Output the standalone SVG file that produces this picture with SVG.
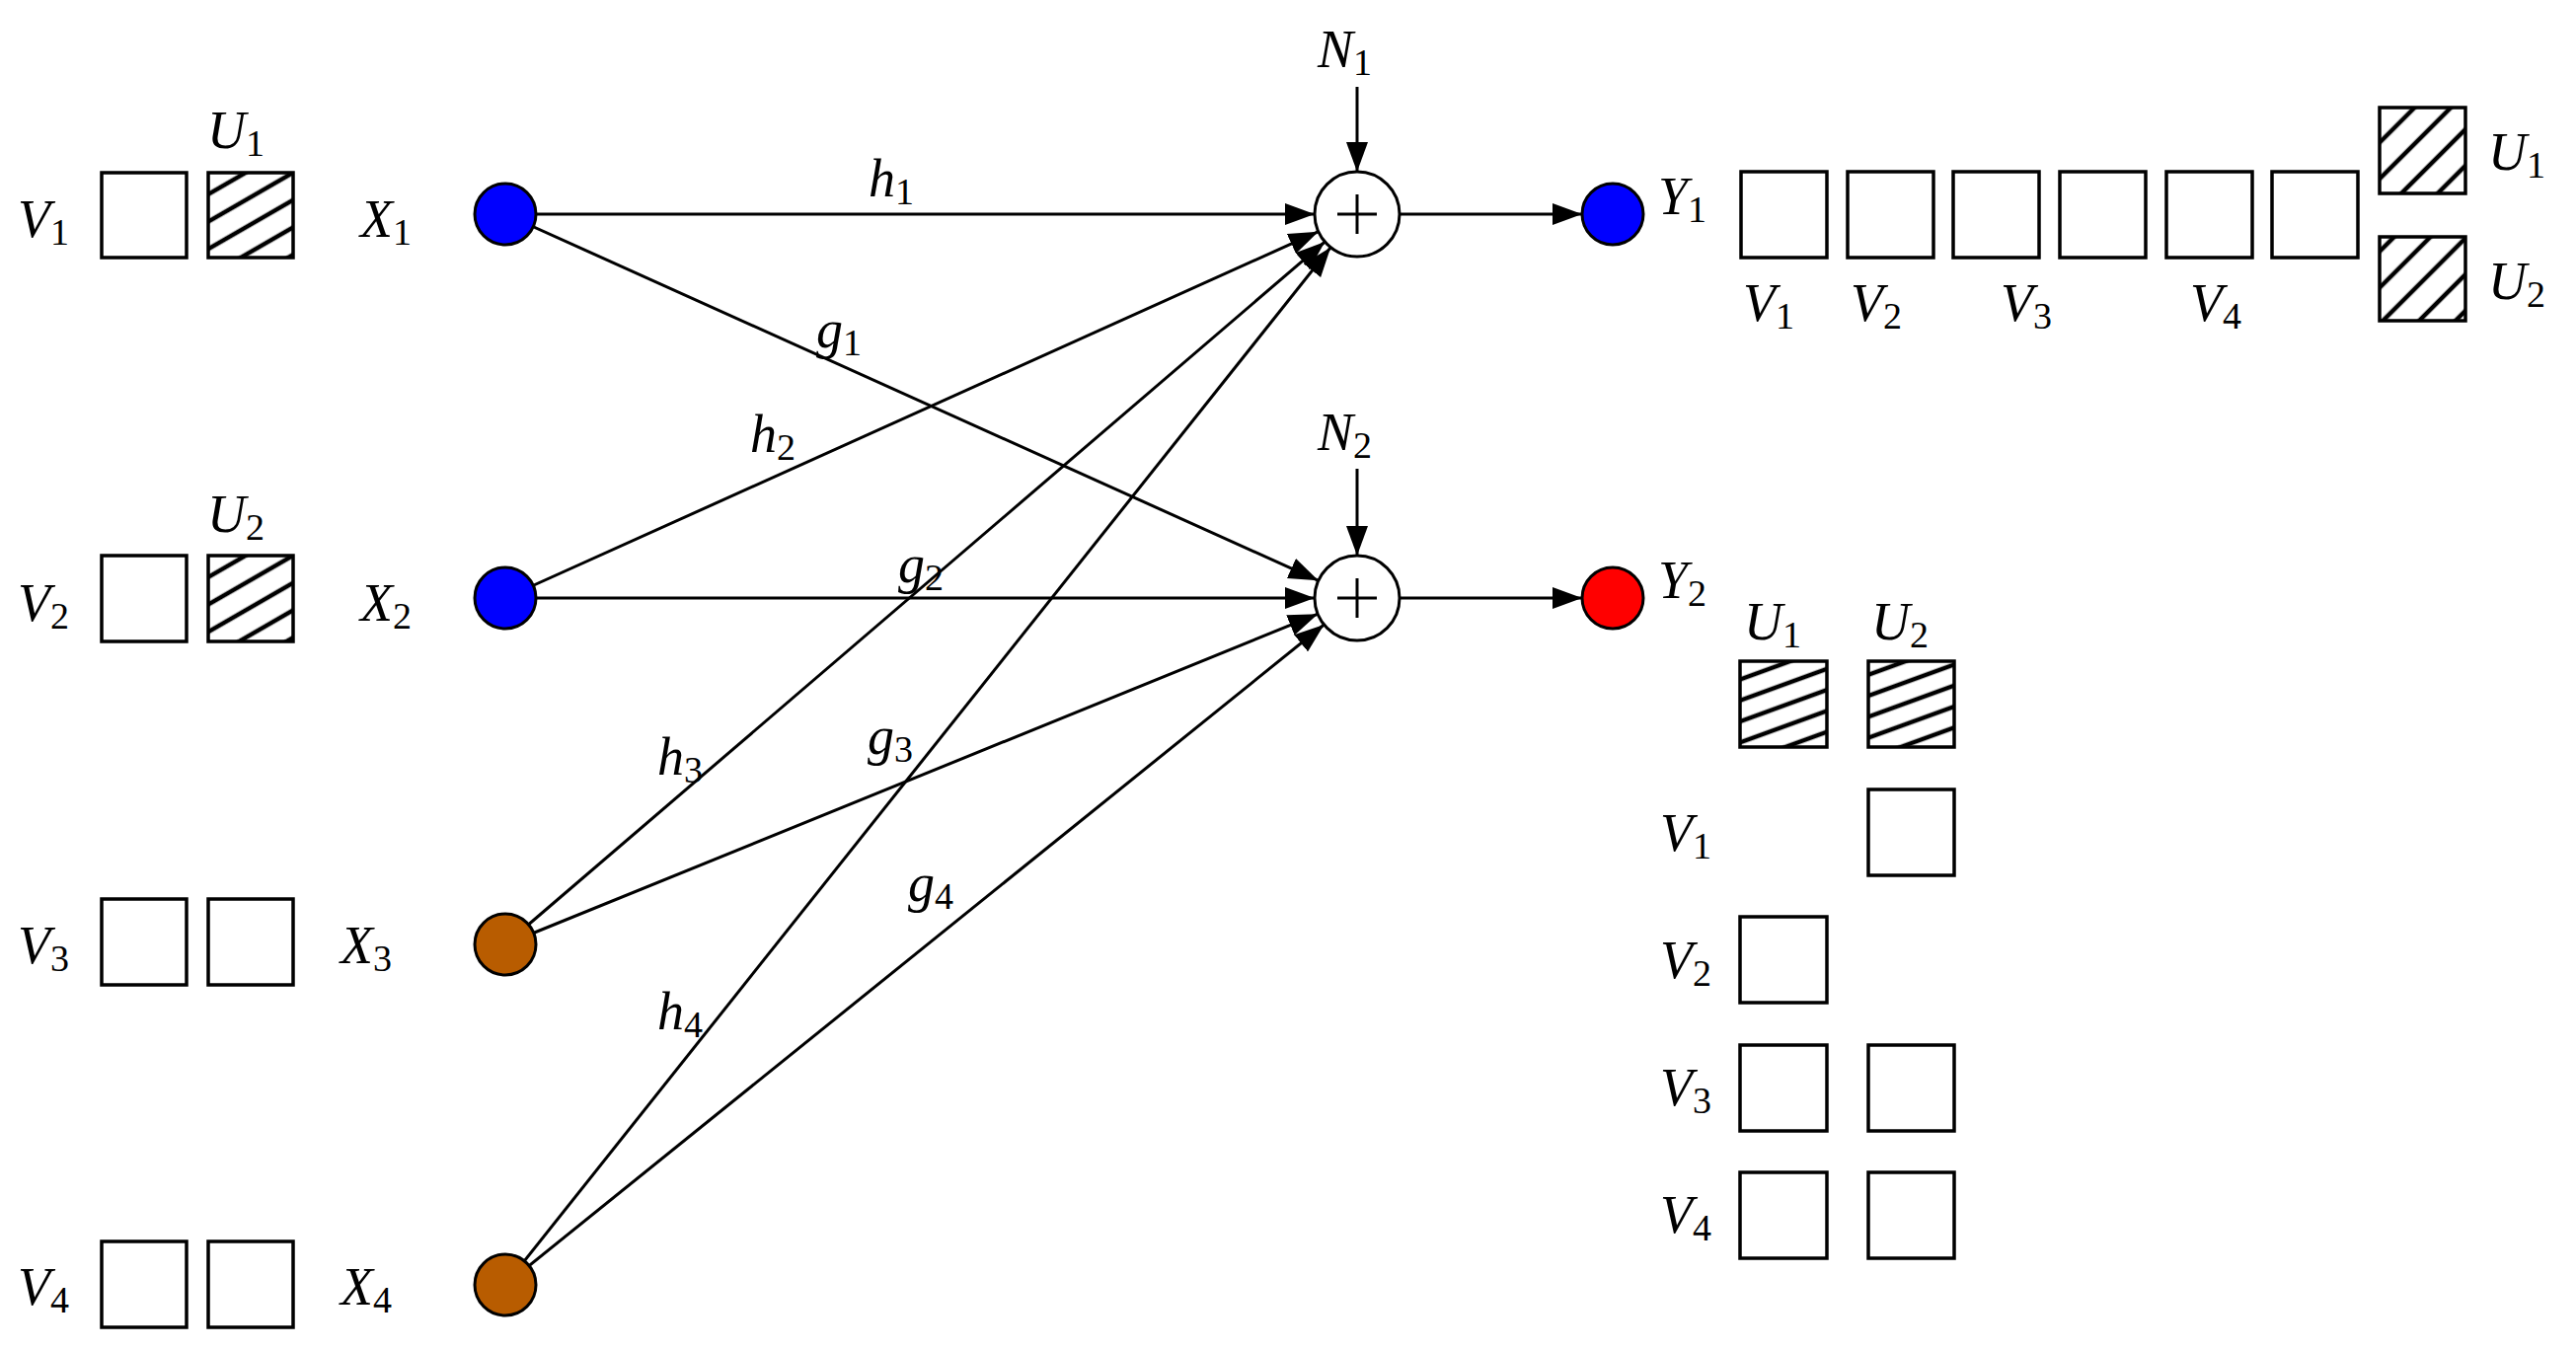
<svg xmlns="http://www.w3.org/2000/svg" width="2610" height="1368" viewBox="0 0 2610 1368">
<style>
text{font-family:"Liberation Serif","Times New Roman",serif;font-style:italic;font-size:54px;fill:#000}
tspan.s{font-style:normal;font-size:38px}
.b{fill:#fff;stroke:#000;stroke-width:3.5}
.h1{fill:url(#hatA);stroke:#000;stroke-width:3.5}
.h2{fill:url(#hatB);stroke:#000;stroke-width:3.5}
.h3{fill:url(#hatC);stroke:#000;stroke-width:3.5}
.e{stroke:#000;stroke-width:3;fill:none;marker-end:url(#ar)}
.n{stroke:#000;stroke-width:3}
.sum{fill:#fff;stroke:#000;stroke-width:3}
</style>
<defs>
<marker id="ar" markerUnits="userSpaceOnUse" markerWidth="32" markerHeight="22" refX="30" refY="11" orient="auto"><path d="M0,0 L30,11 L0,22 Z" fill="#000"/></marker>
<pattern id="hatA" patternUnits="userSpaceOnUse" width="24" height="24" patternTransform="rotate(-30)"><rect width="24" height="24" fill="#fff"/><line x1="0" y1="12" x2="24" y2="12" stroke="#000" stroke-width="4.5"/></pattern>
<pattern id="hatB" patternUnits="userSpaceOnUse" width="26" height="26" patternTransform="rotate(-45)"><rect width="26" height="26" fill="#fff"/><line x1="0" y1="13" x2="26" y2="13" stroke="#000" stroke-width="4.5"/></pattern>
<pattern id="hatC" patternUnits="userSpaceOnUse" width="20" height="20" patternTransform="rotate(-20)"><rect width="20" height="20" fill="#fff"/><line x1="0" y1="10" x2="20" y2="10" stroke="#000" stroke-width="4.5"/></pattern>
</defs>
<rect width="2610" height="1368" fill="#fff"/>
<g id="connectors">
<line class="e" x1="512" y1="217" x2="1332" y2="217"/>
<line class="e" x1="512" y1="217" x2="1335.8" y2="588.3"/>
<line class="e" x1="512" y1="606" x2="1335.8" y2="234.7"/>
<line class="e" x1="512" y1="606" x2="1332" y2="606"/>
<line class="e" x1="512" y1="957" x2="1342.4" y2="245"/>
<line class="e" x1="512" y1="957" x2="1335.2" y2="622.2"/>
<line class="e" x1="512" y1="1302" x2="1348.2" y2="250.7"/>
<line class="e" x1="512" y1="1302" x2="1341.5" y2="633"/>
<line class="e" x1="1418" y1="217" x2="1603" y2="217"/>
<line class="e" x1="1418" y1="606" x2="1603" y2="606"/>
<line class="e" x1="1375" y1="88" x2="1375" y2="174"/>
<line class="e" x1="1375" y1="475" x2="1375" y2="563"/>
<text x="903" y="199" text-anchor="middle">h<tspan class="s" dy="8">1</tspan></text>
<text x="850" y="352" text-anchor="middle">g<tspan class="s" dy="8">1</tspan></text>
<text x="783" y="458" text-anchor="middle">h<tspan class="s" dy="8">2</tspan></text>
<text x="933" y="590" text-anchor="middle">g<tspan class="s" dy="8">2</tspan></text>
<text x="689" y="785" text-anchor="middle">h<tspan class="s" dy="8">3</tspan></text>
<text x="902" y="764" text-anchor="middle">g<tspan class="s" dy="8">3</tspan></text>
<text x="943" y="913" text-anchor="middle">g<tspan class="s" dy="8">4</tspan></text>
<text x="689" y="1043" text-anchor="middle">h<tspan class="s" dy="8">4</tspan></text>
</g>
<g id="row1"><text x="18" y="240">V<tspan class="s" dy="8">1</tspan></text><rect class="b" x="103" y="175" width="86" height="86"/><rect class="h1" x="211" y="175" width="86" height="86"/><text x="210" y="150">U<tspan class="s" dy="8">1</tspan></text><text x="365" y="240">X<tspan class="s" dy="8">1</tspan></text></g>
<g id="row2"><text x="18" y="629">V<tspan class="s" dy="8">2</tspan></text><rect class="b" x="103" y="563" width="86" height="87"/><rect class="h1" x="211" y="563" width="86" height="87"/><text x="210" y="539">U<tspan class="s" dy="8">2</tspan></text><text x="365" y="629">X<tspan class="s" dy="8">2</tspan></text></g>
<g id="row3"><text x="18" y="976">V<tspan class="s" dy="8">3</tspan></text><rect class="b" x="103" y="911" width="86" height="87"/><rect class="b" x="211" y="911" width="86" height="87"/><text x="345" y="976">X<tspan class="s" dy="8">3</tspan></text></g>
<g id="row4"><text x="18" y="1322">V<tspan class="s" dy="8">4</tspan></text><rect class="b" x="103" y="1258" width="86" height="87"/><rect class="b" x="211" y="1258" width="86" height="87"/><text x="345" y="1322">X<tspan class="s" dy="8">4</tspan></text></g>
<g id="X1"><circle cx="512" cy="217" r="31" fill="#0000ff" stroke="#000" stroke-width="3"/></g>
<g id="X2"><circle cx="512" cy="606" r="31" fill="#0000ff" stroke="#000" stroke-width="3"/></g>
<g id="X3"><circle cx="512" cy="957" r="31" fill="#b85c00" stroke="#000" stroke-width="3"/></g>
<g id="X4"><circle cx="512" cy="1302" r="31" fill="#b85c00" stroke="#000" stroke-width="3"/></g>
<g id="S1"><circle class="sum" cx="1375" cy="217" r="43"/><line class="n" x1="1355" y1="217" x2="1395" y2="217"/><line class="n" x1="1375" y1="197" x2="1375" y2="237"/><text x="1335" y="68">N<tspan class="s" dy="8">1</tspan></text></g>
<g id="S2"><circle class="sum" cx="1375" cy="606" r="43"/><line class="n" x1="1355" y1="606" x2="1395" y2="606"/><line class="n" x1="1375" y1="586" x2="1375" y2="626"/><text x="1335" y="456">N<tspan class="s" dy="8">2</tspan></text></g>
<g id="Y1"><circle cx="1634" cy="217" r="31" fill="#0000ff" stroke="#000" stroke-width="3"/><text x="1680" y="217">Y<tspan class="s" dy="8">1</tspan></text></g>
<g id="Y2"><circle cx="1634" cy="606" r="31" fill="#ff0000" stroke="#000" stroke-width="3"/><text x="1680" y="606">Y<tspan class="s" dy="8">2</tspan></text></g>
<g id="Y1buf">
<rect class="b" x="1764" y="174" width="87" height="87"/><rect class="b" x="1872" y="174" width="87" height="87"/><rect class="b" x="1979" y="174" width="87" height="87"/><rect class="b" x="2087" y="174" width="87" height="87"/><rect class="b" x="2195" y="174" width="87" height="87"/><rect class="b" x="2302" y="174" width="87" height="87"/>
<text x="1766" y="325">V<tspan class="s" dy="8">1</tspan></text><text x="1875" y="325">V<tspan class="s" dy="8">2</tspan></text><text x="2027" y="325">V<tspan class="s" dy="8">3</tspan></text><text x="2219" y="325">V<tspan class="s" dy="8">4</tspan></text>
<rect class="h2" x="2411" y="109" width="87" height="87"/><rect class="h2" x="2411" y="240" width="87" height="85"/>
<text x="2521" y="172">U<tspan class="s" dy="8">1</tspan></text><text x="2521" y="303">U<tspan class="s" dy="8">2</tspan></text>
</g>
<g id="Y2buf">
<text x="1767" y="648">U<tspan class="s" dy="8">1</tspan></text><text x="1896" y="648">U<tspan class="s" dy="8">2</tspan></text>
<rect class="h3" x="1763" y="670" width="88" height="87"/><rect class="h3" x="1893" y="670" width="87" height="87"/>
<text x="1682" y="862">V<tspan class="s" dy="8">1</tspan></text><rect class="b" x="1893" y="800" width="87" height="87"/>
<text x="1682" y="991">V<tspan class="s" dy="8">2</tspan></text><rect class="b" x="1763" y="929" width="88" height="87"/>
<text x="1682" y="1120">V<tspan class="s" dy="8">3</tspan></text><rect class="b" x="1763" y="1059" width="88" height="87"/><rect class="b" x="1893" y="1059" width="87" height="87"/>
<text x="1682" y="1249">V<tspan class="s" dy="8">4</tspan></text><rect class="b" x="1763" y="1188" width="88" height="87"/><rect class="b" x="1893" y="1188" width="87" height="87"/>
</g>
</svg>
